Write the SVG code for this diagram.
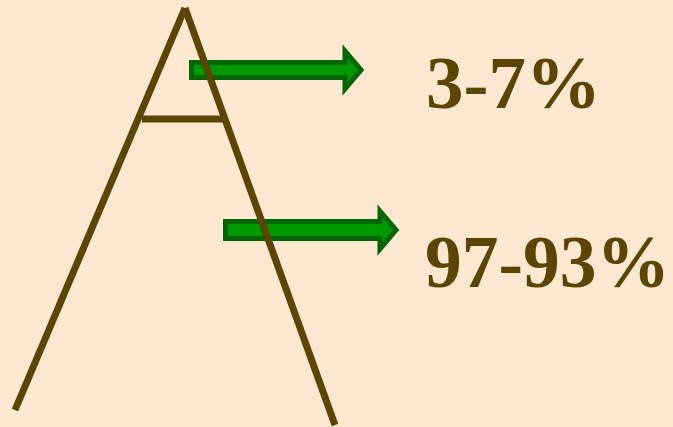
<svg xmlns="http://www.w3.org/2000/svg" width="673" height="427" viewBox="0 0 673 427">
<style>
.arrow{fill:#009900;stroke:#006600;stroke-width:5;stroke-linejoin:miter}
.leg{stroke:#5C4500;stroke-width:7;fill:none;stroke-linecap:butt}
.lbl{font-family:"Liberation Serif","Times New Roman",serif;font-weight:bold;font-size:75px;fill:#5C4500}
</style>
<rect width="673" height="427" fill="#FFE8D2"/>
<g id="connectors">
<path id="arrow-top" class="arrow" d="M191.5,62.5 H345 V51 L361,70 L345,89 V77.5 H191.5 Z"/>
<path id="arrow-bottom" class="arrow" d="M225.5,221.5 H380 V211 L396,230 L380,249 V238.5 H225.5 Z"/>
</g>
<g id="pyramid">
<line class="leg" x1="185" y1="8" x2="15" y2="410"/>
<line class="leg" x1="185" y1="8" x2="335" y2="425"/>
<line class="leg" x1="142" y1="119" x2="223" y2="119"/>
</g>
<g id="label-top"><text class="lbl" x="426" y="108">3-7%</text></g>
<g id="label-bottom"><text class="lbl" x="425" y="287" style="font-size:73.5px">97-93%</text></g>
</svg>
